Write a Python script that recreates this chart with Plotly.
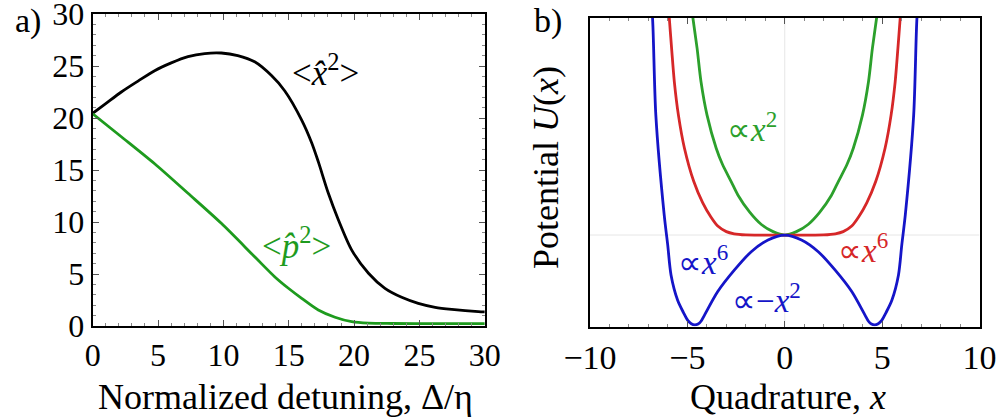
import plotly.graph_objects as go

# ---------------- Panel a) data ----------------
det_x2 = [0, 0.92, 2.19, 3.47, 4.74, 6.01, 7.29, 8.57, 9.84, 11.1, 12.39, 13.66, 14.7,
          15.99, 16.76, 17.26, 18.03, 18.8, 19.82, 21.1, 22.36, 23.64, 24.91, 26.2, 27.47, 29.5, 30]
x2_vals = [20.45, 21.3, 22.5, 23.55, 24.55, 25.3, 25.9, 26.2, 26.25, 26.0, 25.4, 24.1, 22.6,
           19.8, 17.6, 15.8, 12.76, 10.2, 7.3, 5.07, 3.62, 2.76, 2.18, 1.8, 1.6, 1.38, 1.35]

det_p2 = [0, 2.19, 4.74, 7.29, 9.84, 12.39, 13.92, 14.9, 15.99, 17.26, 18.54, 19.82, 21.1,
          23.0, 26.0, 30]
p2_vals = [20.4, 18.2, 15.6, 12.76, 9.87, 6.66, 4.74, 3.7, 2.66, 1.54, 0.84, 0.41, 0.27,
           0.24, 0.23, 0.23]

a_ticks = [0, 5, 10, 15, 20, 25, 30]

# ---------------- Panel b) data ----------------
q_green = [-4.85, -4.72, -4.5, -4.3, -3.99, -3.52, -3.2, -2.75, -2.4, -1.8, -1.2, -0.6, 0,
           0.6, 1.2, 1.8, 2.4, 2.75, 3.2, 3.52, 3.99, 4.3, 4.5, 4.72, 4.85]
u_green = [10.7, 10.0, 9.0, 7.92, 6.84, 5.77, 5.25, 4.69, 4.25, 3.70, 3.30, 3.07, 2.96,
           3.07, 3.30, 3.70, 4.25, 4.69, 5.25, 5.77, 6.84, 7.92, 9.0, 10.0, 10.7]

q_red = [-6.0, -5.93, -5.81, -5.67, -5.46, -5.15, -4.67, -4.21, -3.8, -3.44, -3.0, -2.6, -2.0, -1.0, 0,
         1.0, 2.0, 2.6, 3.0, 3.44, 3.8, 4.21, 4.67, 5.15, 5.46, 5.67, 5.81, 5.93, 6.0]
u_red = [10.6, 10.0, 9.0, 7.92, 6.84, 5.77, 4.69, 4.0, 3.55, 3.25, 3.07, 3.0, 2.965, 2.96, 2.96,
         2.96, 2.965, 3.0, 3.07, 3.25, 3.55, 4.0, 4.69, 5.77, 6.84, 7.92, 9.0, 10.0, 10.6]

q_blue = [-6.9, -6.79, -6.62, -6.19, -6.01, -5.84, -5.5, -5.2, -4.98, -4.8, -4.62, -4.45, -4.3, -4.12,
          -3.44, -2.58, -1.72, -0.86, 0, 0.86, 1.72, 2.58, 3.44, 4.12, 4.3, 4.45, 4.62, 4.8, 4.98,
          5.2, 5.5, 5.84, 6.01, 6.19, 6.62, 6.79, 6.9]
u_blue = [10.7, 10.0, 6.84, 3.61, 2.64, 1.67, 0.85, 0.45, 0.2, 0.09, 0.05, 0.08, 0.17, 0.37,
          1.13, 1.83, 2.42, 2.80, 2.96, 2.80, 2.42, 1.83, 1.13, 0.37, 0.17, 0.08, 0.05, 0.09, 0.2,
          0.45, 0.85, 1.67, 2.64, 3.61, 6.84, 10.0, 10.7]

b_ticks = [-10, -5, 0, 5, 10]
u_zero = 2.96

# ---------------- Styles ----------------
FONT = "Liberation Serif"
BLACK = "#000000"
GREEN = "#1e9b1e"
GREEN_B = "#2ca02c"
RED = "#d62728"
BLUE = "#1515c8"

W, H = 1005, 419

def px_x(p):
    return p / W

def px_y(p):
    return 1 - p / H

fig = go.Figure()

LW = 2.8
fig.add_trace(go.Scatter(x=det_x2, y=x2_vals, mode="lines", line=dict(color=BLACK, width=LW, shape="spline", smoothing=0.8),
                         xaxis="x", yaxis="y", showlegend=False, hoverinfo="skip"))
fig.add_trace(go.Scatter(x=det_p2, y=p2_vals, mode="lines", line=dict(color=GREEN, width=LW, shape="spline", smoothing=0.8),
                         xaxis="x", yaxis="y", showlegend=False, hoverinfo="skip"))

fig.add_trace(go.Scatter(x=q_green, y=u_green, mode="lines", line=dict(color=GREEN_B, width=LW, shape="spline", smoothing=0.8),
                         xaxis="x2", yaxis="y2", showlegend=False, hoverinfo="skip"))
fig.add_trace(go.Scatter(x=q_red, y=u_red, mode="lines", line=dict(color=RED, width=LW, shape="spline", smoothing=0.8),
                         xaxis="x2", yaxis="y2", showlegend=False, hoverinfo="skip"))
fig.add_trace(go.Scatter(x=q_blue, y=u_blue, mode="lines", line=dict(color=BLUE, width=LW, shape="spline", smoothing=0.8),
                         xaxis="x2", yaxis="y2", showlegend=False, hoverinfo="skip"))

def frame(size):
    return dict(showline=True, linecolor=BLACK, linewidth=2, mirror="allticks", zeroline=False,
                ticks="inside", ticklen=6, tickwidth=1, tickcolor="#555555", automargin=False,
                ticklabeloverflow="allow",
                tickfont=dict(family=FONT, size=size, color=BLACK))

minor = dict(ticks="inside", ticklen=3, dtick=1, tickcolor="#888888", showgrid=False)

fig.update_layout(
    width=W, height=H,
    margin=dict(l=0, r=0, t=0, b=0, autoexpand=False),
    paper_bgcolor="white", plot_bgcolor="white",
    font=dict(family=FONT, color=BLACK),
    xaxis=dict(domain=[px_x(92.7), px_x(484.8)], range=[0, 30], tickvals=a_ticks, showgrid=False,
               minor=minor, anchor="y", **frame(32)),
    yaxis=dict(domain=[px_y(326), px_y(14)], range=[0, 30], tickvals=a_ticks, showgrid=False,
               minor=minor, anchor="x", **frame(32)),
    xaxis2=dict(domain=[px_x(590), px_x(979.5)], range=[-10, 10], tickvals=b_ticks,
                showgrid=False, minor=minor, anchor="y2", **frame(34)),
    yaxis2=dict(domain=[px_y(326.5), px_y(17.5)], range=[0, 10], showticklabels=False,
                showgrid=False, showline=True, linecolor=BLACK, linewidth=2, mirror=True,
                zeroline=False, ticks="", anchor="x2", automargin=False),
)

# faint guide lines in panel b
fig.add_shape(type="line", xref="x2", yref="y2", x0=0, x1=0, y0=0, y1=10,
              line=dict(color="#e6e6e6", width=1), layer="below")
fig.add_shape(type="line", xref="x2", yref="y2", x0=-10, x1=10, y0=u_zero, y1=u_zero,
              line=dict(color="#e6e6e6", width=1), layer="below")

def pa(text, x, y, size, angle=0, yanchor="middle"):
    return dict(text=text, x=px_x(x), y=px_y(y), xref="paper", yref="paper", showarrow=False,
                xanchor="center", yanchor=yanchor, textangle=angle,
                font=dict(family=FONT, size=size, color=BLACK))

def da(text, x, y, xr, yr, size, color):
    return dict(text=text, x=x, y=y, xref=xr, yref=yr, showarrow=False,
                xanchor="center", yanchor="middle",
                font=dict(family=FONT, size=size, color=color))

ann = [
    pa("a)", 28, 0, 34, yanchor="top"),
    pa("b)", 548, 0, 34, yanchor="top"),
    pa("Normalized detuning, Δ/η", 285, 397, 36),
    pa("Quadrature, <i>x</i>", 788, 397, 36),
    pa("Potential <i>U</i>(<i>x</i>)", 546, 168, 36, -90),
    da("&lt;<i>x̂</i><sup>2</sup>&gt;", 17.8, 24.6, "x", "y", 35, BLACK),
    da("&lt;<i>p̂</i><sup>2</sup>&gt;", 15.6, 7.9, "x", "y", 35, GREEN),
    da("∝<i>x</i><sup>2</sup>", -1.7, 6.45, "x2", "y2", 33, GREEN_B),
    da("∝<i>x</i><sup>6</sup>", 4.0, 2.55, "x2", "y2", 33, RED),
    da("∝<i>x</i><sup>6</sup>", -4.2, 2.15, "x2", "y2", 33, BLUE),
    da("∝−<i>x</i><sup>2</sup>", -0.95, 0.92, "x2", "y2", 33, BLUE),
]
fig.update_layout(annotations=ann)

# remove the default 8px page margin so the figure fills the window exactly
fig.write_html("out.html", config={"displayModeBar": False},
               post_script="document.body.style.margin='0';document.body.style.overflow='hidden';")
